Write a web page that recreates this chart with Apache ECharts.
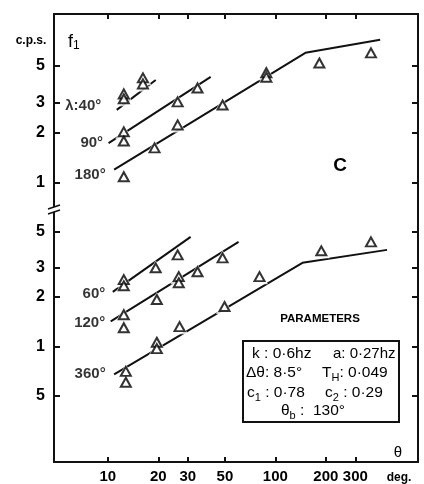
<!DOCTYPE html>
<html><head><meta charset="utf-8">
<script src="https://cdn.jsdelivr.net/npm/echarts@6/dist/echarts.min.js"></script>
<style>html,body{margin:0;padding:0;background:#fff}#c{width:424px;height:484px}</style>
</head><body><div id="c"></div>
<script>
// ---- axis ticks ----
const thetaTicks = [10, 20, 30, 50, 100, 200, 300];
const thetaTickLabels = ['10', '20', '30', '50', '100', '200', '300'];
const fTopTicks = [1, 2, 3, 5];
const fTopTickLabels = ['1', '2', '3', '5'];
const fBotTicks = [0.5, 1, 2, 3, 5];
const fBotTickLabels = ['5', '1', '2', '3', '5'];
const thetaRange = [4.77, 710];
const fTopRange = [0.671, 10.2];
const fBotRange = [0.198, 6.58];

// ---- top panel: measured points (theta deg, f1 c.p.s.) ----
const top40 = [[12.45, 3.40], [12.45, 3.18], [16.2, 4.24], [16.2, 3.90]];
const top90 = [[12.45, 2.02], [12.45, 1.78], [26.1, 3.05], [34.3, 3.69]];
const top180 = [[12.45, 1.09], [19.0, 1.62], [26.1, 2.22], [48.4, 2.92], [88.3, 4.55], [88.3, 4.28], [183, 5.2], [372, 5.98]];
// theoretical lines
const line40 = [[11.3, 2.73], [19.3, 4.12]];
const line90 = [[10.1, 1.73], [41.1, 4.30]];
const line180 = [[10.9, 1.20], [151, 5.98], [422, 7.15]];

// ---- bottom panel ----
const bot60 = [[12.45, 2.55], [12.45, 2.34], [19.3, 3.01], [26.1, 3.61]];
const bot120 = [[12.45, 1.56], [12.45, 1.30], [19.6, 1.93], [26.5, 2.66], [26.5, 2.44], [34.3, 2.85], [48.4, 3.46]];
const bot360 = [[12.8, 0.705], [12.8, 0.605], [19.6, 1.06], [19.6, 0.97], [26.8, 1.32], [49.7, 1.75], [80.4, 2.66], [188, 3.82], [372, 4.33]];
const line60 = [[10.7, 2.15], [31.2, 4.64]];
const line120 = [[10.4, 1.42], [60.3, 4.33]];
const line360 = [[10.9, 0.676], [145, 3.23], [464, 3.87]];

const topLabels = ['λ:40°', '90°', '180°'];
const botLabels = ['60°', '120°', '360°'];

// ---- build ----
const L = Math.log10;
const lg = arr => arr.map(p => [L(p[0]), L(p[1])]);
const FONT = 'Liberation Sans';
const INK = '#111';

function labelFor(ticks, labels) {
  return v => { for (let i = 0; i < ticks.length; i++) if (Math.abs(L(ticks[i]) - v) < 1e-6) return labels[i]; return ''; };
}
function xAxis(grid, pos, showLabel) {
  return {
    type: 'value', gridIndex: grid, position: pos, min: L(thetaRange[0]), max: L(thetaRange[1]),
    axisLine: { show: true, onZero: false, lineStyle: { color: INK, width: 2 } },
    axisTick: { show: true, inside: true, length: 5, customValues: thetaTicks.map(L), lineStyle: { color: INK, width: 2 } },
    axisLabel: { show: showLabel, customValues: thetaTicks.map(L), formatter: labelFor(thetaTicks, thetaTickLabels),
      color: '#000', fontFamily: FONT, fontSize: 15, fontWeight: 'bold', margin: 7 },
    splitLine: { show: false }
  };
}
function yAxis(grid, pos, range, ticks, labels, showLabel) {
  return {
    type: 'value', gridIndex: grid, position: pos, min: L(range[0]), max: L(range[1]),
    axisLine: { show: true, onZero: false, lineStyle: { color: INK, width: 2 } },
    axisTick: { show: true, inside: true, length: 6, customValues: ticks.map(L), lineStyle: { color: INK, width: 2 } },
    axisLabel: { show: showLabel, customValues: ticks.map(L), formatter: labelFor(ticks, labels),
      color: '#000', fontFamily: FONT, fontSize: 16, fontWeight: 'bold', margin: 9 },
    splitLine: { show: false }
  };
}
function lineSeries(data, xi, yi) {
  return { type: 'line', xAxisIndex: xi, yAxisIndex: yi, data: lg(data), symbol: 'none', z: 2,
    lineStyle: { color: INK, width: 2 }, silent: true, animation: false };
}
function haloSeries(data, xi, yi) {
  return { type: 'scatter', xAxisIndex: xi, yAxisIndex: yi, data: lg(data), symbol: 'triangle', symbolSize: [17, 15], z: 3,
    itemStyle: { color: '#fff' }, silent: true, animation: false };
}
function markSeries(data, xi, yi) {
  return { type: 'scatter', xAxisIndex: xi, yAxisIndex: yi, data: lg(data), symbol: 'triangle', symbolSize: [10, 9], z: 4,
    itemStyle: { color: '#fff', borderColor: '#000', borderWidth: 2 }, animation: false };
}
const labelStyle = [
  { distance: 15, offset: [0, -4] }, { distance: 5, offset: [0, 0] }, { distance: 8, offset: [0, 5] },
  { distance: 7, offset: [0, 2] }, { distance: 5, offset: [0, 1] }, { distance: 8, offset: [0, -1] }
];
function labelSeries(lines, names, xi, yi, styleOffset) {
  return { type: 'scatter', xAxisIndex: xi, yAxisIndex: yi, symbol: 'circle', symbolSize: 1, z: 5,
    itemStyle: { color: 'transparent' }, animation: false, silent: true,
    data: lines.map((ln, i) => ({ name: names[i], value: [L(ln[0][0]), L(ln[0][1])],
      label: Object.assign({ show: true, position: 'left', formatter: '{b}', color: '#000', fontFamily: FONT,
        fontSize: 15, fontWeight: 'bold' }, labelStyle[styleOffset + i]) })) };
}

const series = [];
[[line40, top40], [line90, top90], [line180, top180]].forEach(([ln, pts]) => {
  series.push(lineSeries(ln, 0, 0), haloSeries(pts, 0, 0), markSeries(pts, 0, 0));
});
[[line60, bot60], [line120, bot120], [line360, bot360]].forEach(([ln, pts]) => {
  series.push(lineSeries(ln, 1, 2), haloSeries(pts, 1, 2), markSeries(pts, 1, 2));
});
series.push(labelSeries([line40, line90, line180], topLabels, 0, 0, 0));
series.push(labelSeries([line60, line120, line360], botLabels, 1, 2, 3));

const txt = (text, x, y, font, align, extra) => ({ type: 'text', x, y, z: 10,
  style: Object.assign({ text, fill: '#000', font, align: align || 'left', verticalAlign: 'middle' }, extra || {}) });
const subRich = size => ({ m: { fontSize: size, fontFamily: FONT, lineHeight: 20, verticalAlign: 'middle' },
  s: { fontSize: Math.round(size * 0.68), fontFamily: FONT, lineHeight: 9, verticalAlign: 'bottom' } });
const BOXF = '15.5px "Liberation Sans"';

const option = {
  backgroundColor: '#fff',
  animation: false,
  grid: [
    { left: 54, right: 6, top: 14, height: 198 },
    { left: 54, right: 6, top: 212, bottom: 21 }
  ],
  xAxis: [xAxis(0, 'top', false), xAxis(1, 'bottom', true)],
  yAxis: [
    yAxis(0, 'left', fTopRange, fTopTicks, fTopTickLabels, true),
    yAxis(0, 'right', fTopRange, fTopTicks, fTopTickLabels, false),
    yAxis(1, 'left', fBotRange, fBotTicks, fBotTickLabels, true),
    yAxis(1, 'right', fBotRange, fBotTicks, fBotTickLabels, false)
  ],
  series,
  graphic: [
    // axis break
    { type: 'rect', shape: { x: 48, y: 207, width: 12, height: 5 }, style: { fill: '#fff' }, z: 9 },
    { type: 'line', shape: { x1: 48, y1: 209, x2: 60, y2: 205 }, style: { stroke: INK, lineWidth: 1.5 }, z: 10 },
    { type: 'line', shape: { x1: 48, y1: 214, x2: 60, y2: 210 }, style: { stroke: INK, lineWidth: 1.5 }, z: 10 },
    txt('c.p.s.', 31, 41, 'bold 12px "Liberation Sans"', 'center'),
    txt('{m|f}{s|1}', 68, 42, '', 'left', { rich: subRich(18) }),
    txt('C', 340, 166, 'bold 19px "Liberation Sans"', 'center'),
    txt('PARAMETERS', 320, 319, 'bold 11.5px "Liberation Sans"', 'center'),
    { type: 'rect', shape: { x: 243, y: 341, width: 156, height: 81 }, style: { fill: '#fff', stroke: INK, lineWidth: 2 }, z: 9 },
    txt('k : 0·6hz', 252, 354, BOXF),
    txt('a: 0·27hz', 333, 354, '15px "Liberation Sans"'),
    txt('Δθ: 8·5°', 246, 373, BOXF),
    txt('{m|T}{s|H}{m|: 0·049}', 322, 373, '', 'left', { rich: subRich(15.5) }),
    txt('{m|c}{s|1}{m| : 0·78}', 247, 393, '', 'left', { rich: subRich(15.5) }),
    txt('{m|c}{s|2}{m| : 0·29}', 325, 393, '', 'left', { rich: subRich(15.5) }),
    txt('{m|θ}{s|b}{m| :  130°}', 281, 411, '', 'left', { rich: subRich(15.5) }),
    txt('θ', 398, 453, '15px "Liberation Sans"', 'center'),
    txt('deg.', 399, 478, 'bold 12px "Liberation Sans"', 'center')
  ]
};
const chart = echarts.init(document.getElementById('c'), null, { renderer: 'canvas' });
chart.setOption(option);
</script>
</body></html>
